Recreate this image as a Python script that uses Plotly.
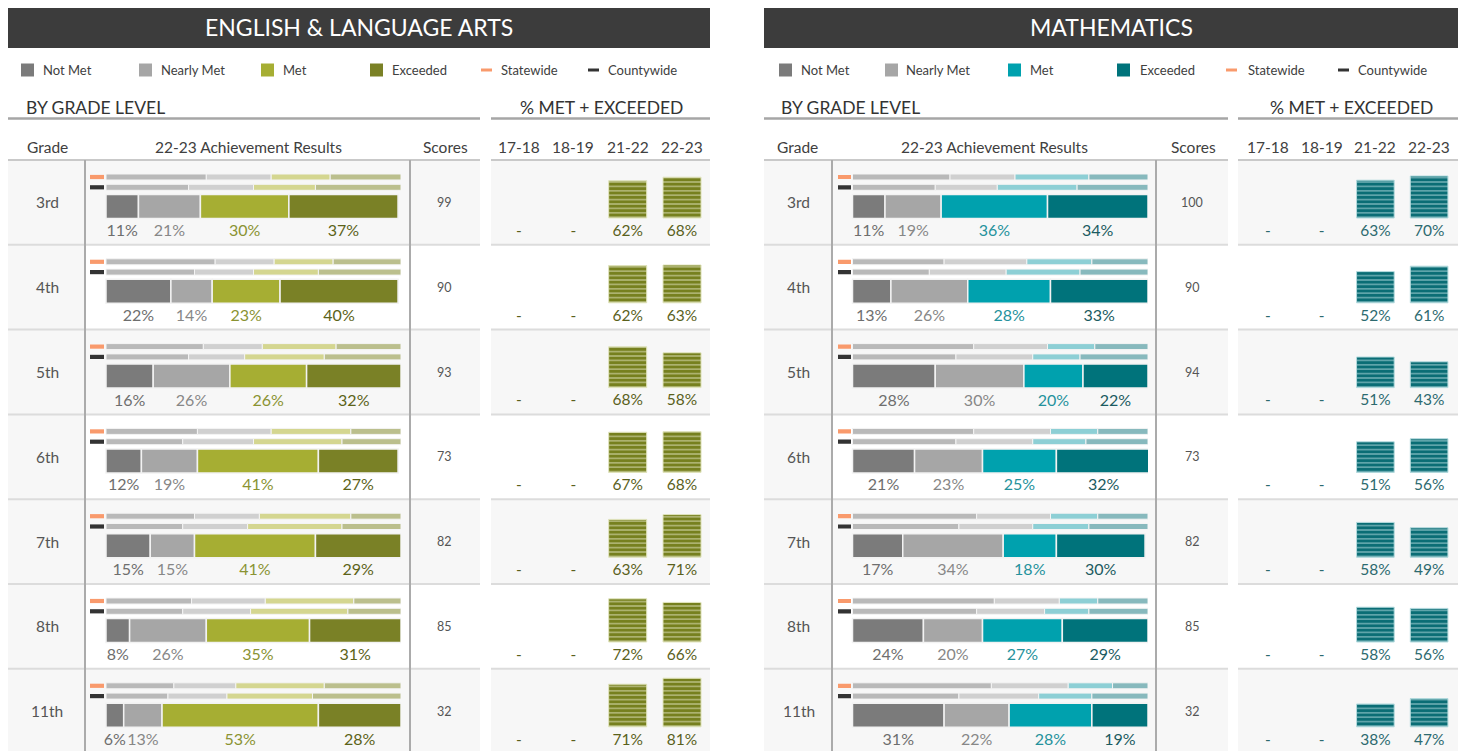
import plotly.graph_objects as go

W, H = 1466, 751

# ---------------- DATA ----------------
grades = ["3rd", "4th", "5th", "6th", "7th", "8th", "11th"]
periods = ["17-18", "18-19", "21-22", "22-23"]
categories = ["Not Met", "Nearly Met", "Met", "Exceeded"]

# English & Language Arts, 22-23 achievement (%)
ela_not_met = [11, 22, 16, 12, 15, 8, 6]
ela_nearly_met = [21, 14, 26, 19, 15, 26, 13]
ela_met = [30, 23, 26, 41, 41, 35, 53]
ela_exceeded = [37, 40, 32, 27, 29, 31, 28]
# statewide distribution (estimated)
ela_state_not_met = [34, 37, 33, 31, 30, 29, 23]
ela_state_nearly_met = [22, 20, 20, 25, 22, 25, 21]
ela_state_met = [20, 20, 25, 27, 31, 30, 30]
ela_state_exceeded = [24, 23, 22, 17, 17, 16, 26]
# countywide distribution (estimated)
ela_county_not_met = [28, 30, 28, 26, 26, 26, 21]
ela_county_nearly_met = [22, 20, 19, 24, 22, 23, 20]
ela_county_met = [21, 22, 27, 30, 32, 33, 29]
ela_county_exceeded = [29, 28, 26, 20, 20, 18, 30]
ela_scores = [99, 90, 93, 73, 82, 85, 32]
ela_me_1718 = [None, None, None, None, None, None, None]
ela_me_1819 = [None, None, None, None, None, None, None]
ela_me_2122 = [62, 62, 68, 67, 63, 72, 71]
ela_me_2223 = [68, 63, 58, 68, 71, 66, 81]

# Mathematics, 22-23 achievement (%)
math_not_met = [11, 13, 28, 21, 17, 24, 31]
math_nearly_met = [19, 26, 30, 23, 34, 20, 22]
math_met = [36, 28, 20, 25, 18, 27, 28]
math_exceeded = [34, 33, 22, 32, 30, 29, 19]
math_state_not_met = [33, 31, 41, 41, 42, 48, 47]
math_state_nearly_met = [22, 28, 25, 26, 25, 22, 26]
math_state_met = [25, 22, 16, 16, 16, 13, 15]
math_state_exceeded = [20, 19, 18, 17, 17, 17, 12]
math_county_not_met = [28, 26, 35, 35, 36, 42, 36]
math_county_nearly_met = [21, 26, 26, 26, 25, 23, 27]
math_county_met = [27, 25, 16, 18, 19, 15, 18]
math_county_exceeded = [24, 23, 23, 21, 20, 20, 19]
math_scores = [100, 90, 94, 73, 82, 85, 32]
math_me_1718 = [None, None, None, None, None, None, None]
math_me_1819 = [None, None, None, None, None, None, None]
math_me_2122 = [63, 52, 51, 51, 58, 58, 38]
math_me_2223 = [70, 61, 43, 56, 49, 56, 47]

# ---------------- GEOMETRY / STYLE ----------------
FONT = "Lato, 'Open Sans', sans-serif"
PAGE_OFF = 8.0          # page body margin: figure starts 8px in from the window corner
ROW_TOP = 160.0         # screen y of first row
ROW_H = 84.8
N = len(grades)
FIG_BOTTOM = H + PAGE_OFF


def px(x):
    return (x - PAGE_OFF) / W


def py(y):
    return 1 - (y - PAGE_OFF) / H


# offsets inside a row (in row units)
OFF_STATE = 17.0 / ROW_H
OFF_COUNTY = 27.3 / ROW_H
OFF_MAIN = 46.5 / ROW_H
OFF_LABEL = 72.0 / ROW_H
OFF_MID = 0.5
BAR_THIN = 6.0 / ROW_H
BAR_MAIN = 24.0 / ROW_H
BASE_PX = 58.0      # baseline of stripe bars from row top
PX_PER_PCT = 0.6    # stripe bar scale

GRAY_NOT = "#7b7b7b"
GRAY_NEAR = "#a6a6a6"
LGRAY_NOT = "#b9b9b9"
LGRAY_NEAR = "#d0d0d0"

panels = [
    dict(
        title="ENGLISH & LANGUAGE ARTS",
        vals=[ela_not_met, ela_nearly_met, ela_met, ela_exceeded],
        state=[ela_state_not_met, ela_state_nearly_met, ela_state_met, ela_state_exceeded],
        county=[ela_county_not_met, ela_county_nearly_met, ela_county_met, ela_county_exceeded],
        scores=ela_scores,
        me=[ela_me_1718, ela_me_1819, ela_me_2122, ela_me_2223],
        colors=[GRAY_NOT, GRAY_NEAR, "#a6ae33", "#7a8126"],
        lcolors=[LGRAY_NOT, LGRAY_NEAR, "#d4d690", "#bbbf8d"],
        tcolors=["#6e6e6e", "#878787", "#8a9332", "#5c6319"],
        stripe_dark="#76801e", stripe_light="#e2e5bf", me_text="#5a611c",
        title_x=(8, 710),
        leg_sq=[21, 139, 261, 370], leg_tx=[41, 159, 281, 390],
        leg_ln=[481, 588], leg_ln_tx=[499, 606],
        bgl_x=24, left_block=(8, 480), right_block=(491, 710), met_title_x=601,
        hdr_grade=47, hdr_ach=248, hdr_scores=445,
        grade_col=(8, 84), box=(85, 410),
        ach_zero=106, ach_full=401, ach_left=88, marker=(90, 104),
        met_dom=(491.8, 709.2),
    ),
    dict(
        title="MATHEMATICS",
        vals=[math_not_met, math_nearly_met, math_met, math_exceeded],
        state=[math_state_not_met, math_state_nearly_met, math_state_met, math_state_exceeded],
        county=[math_county_not_met, math_county_nearly_met, math_county_met, math_county_exceeded],
        scores=math_scores,
        me=[math_me_1718, math_me_1819, math_me_2122, math_me_2223],
        colors=[GRAY_NOT, GRAY_NEAR, "#00a1ae", "#00737b"],
        lcolors=[LGRAY_NOT, LGRAY_NEAR, "#8dcfd5", "#87b9bd"],
        tcolors=["#6e6e6e", "#878787", "#25929c", "#1b5b61"],
        stripe_dark="#0a6d75", stripe_light="#b4dbde", me_text="#2d6a6f",
        title_x=(764, 1458),
        leg_sq=[779, 885, 1008, 1117], leg_tx=[799, 904, 1028, 1138],
        leg_ln=[1226, 1338], leg_ln_tx=[1246, 1356],
        bgl_x=779, left_block=(764, 1228), right_block=(1238, 1458), met_title_x=1351,
        hdr_grade=797, hdr_ach=994, hdr_scores=1193,
        grade_col=(764, 831), box=(832, 1156),
        ach_zero=852.5, ach_full=1148, ach_left=834.5, marker=(838, 851),
        met_dom=(1241, 1456),
    ),
]

fig = go.Figure()
shapes = []
annotations = []
layout = dict(
    width=W, height=H,
    margin=dict(l=0, r=0, t=0, b=0),
    paper_bgcolor="white", plot_bgcolor="rgba(0,0,0,0)",
    showlegend=False, barmode="overlay",
    font=dict(family=FONT, color="#404040"),
)

# shared row axis (rows 0..N, top to bottom)
layout["yaxis"] = dict(domain=[0, py(ROW_TOP)], range=[(FIG_BOTTOM - ROW_TOP) / ROW_H, 0],
                       visible=False, fixedrange=True, anchor="x")
# per-row axes for the % met + exceeded stripe bars
for i in range(N):
    top = ROW_TOP + i * ROW_H
    bot = min(top + ROW_H, FIG_BOTTOM)
    layout[f"yaxis{i + 2}"] = dict(
        domain=[max(py(bot), 0), py(top)],
        range=[(BASE_PX - (bot - top)) / PX_PER_PCT, BASE_PX / PX_PER_PCT],
        visible=False, fixedrange=True, anchor="x2")


def hline(x0, x1, y, color, width):
    shapes.append(dict(type="line", xref="paper", yref="paper", x0=px(x0), x1=px(x1),
                       y0=py(y), y1=py(y), line=dict(color=color, width=width), layer="below"))


def rect(x0, x1, y0, y1, color, layer="below"):
    shapes.append(dict(type="rect", xref="paper", yref="paper", x0=px(x0), x1=px(x1),
                       y0=py(y1), y1=py(y0), fillcolor=color, line=dict(width=0), layer=layer))


def text(x, y, s, size, color, xanchor="center", xref="paper", yref="paper"):
    annotations.append(dict(x=x, y=y, xref=xref, yref=yref, text=s, showarrow=False,
                            xanchor=xanchor, yanchor="middle",
                            font=dict(size=size, color=color, family=FONT)))


for p, P in enumerate(panels):
    xa = "x" if p == 0 else "x3"
    xm = "x2" if p == 0 else "x4"
    xa_key = "xaxis" if p == 0 else "xaxis3"
    xm_key = "xaxis2" if p == 0 else "xaxis4"
    scale = (P["ach_full"] - P["ach_zero"]) / 100.0
    layout[xa_key] = dict(domain=[px(P["ach_left"]), px(P["ach_full"])],
                          range=[-(P["ach_zero"] - P["ach_left"]) / scale, 100],
                          visible=False, fixedrange=True, anchor="y")
    layout[xm_key] = dict(domain=[px(P["met_dom"][0]), px(P["met_dom"][1])],
                          type="category", categoryorder="array", categoryarray=periods,
                          range=[-0.5, len(periods) - 0.5],
                          visible=False, fixedrange=True, anchor="y2")

    # ---- header decorations ----
    tx0, tx1 = P["title_x"]
    rect(tx0, tx1, 6, 48, "#3c3c3c")
    text(px((tx0 + tx1) / 2), py(27), P["title"], 23, "white")
    for k, cat in enumerate(categories):
        sx = P["leg_sq"][k]
        rect(sx, sx + 13, 63.5, 76.5, P["colors"][k])
        text(px(P["leg_tx"][k]), py(70), cat, 13, "#404040", xanchor="left")
    for k, (lab, col) in enumerate([("Statewide", "#f99a6c"), ("Countywide", "#333333")]):
        lx = P["leg_ln"][k]
        rect(lx, lx + 11, 68.5, 71.5, col)
        text(px(P["leg_ln_tx"][k]), py(70), lab, 13, "#404040", xanchor="left")

    lb0, lb1 = P["left_block"]
    rb0, rb1 = P["right_block"]
    text(px(P["bgl_x"]), py(107), "BY GRADE LEVEL", 17.5, "#333333", xanchor="left")
    text(px(P["met_title_x"]), py(107), "% MET + EXCEEDED", 17.5, "#333333")
    hline(lb0, lb1, 118.5, "#a6a6a6", 2.5)
    hline(rb0, rb1, 118.5, "#a6a6a6", 2.5)
    text(px(P["hdr_grade"]), py(147), "Grade", 15.5, "#404040")
    text(px(P["hdr_ach"]), py(147), "22-23 Achievement Results", 15.5, "#404040")
    text(px(P["hdr_scores"]), py(147), "Scores", 15.5, "#404040")
    for per in periods:
        annotations.append(dict(x=per, xref=xm, y=py(147), yref="paper", text=per,
                                showarrow=False, xanchor="center", yanchor="middle",
                                font=dict(size=15.5, color="#404040", family=FONT)))

    # ---- row backgrounds / separators ----
    g0, g1 = P["grade_col"]
    for i in range(N):
        top = ROW_TOP + i * ROW_H
        bot = min(top + ROW_H, FIG_BOTTOM)
        if i % 2 == 0:
            rect(lb0, lb1, top, bot, "#f7f7f7")
            rect(rb0, rb1, top, bot, "#f7f7f7")
        else:
            rect(g0, g1, top, bot, "#f7f7f7")
        if i > 0:
            hline(lb0, lb1, top, "#dcdcdc", 2)
            hline(rb0, rb1, top, "#dcdcdc", 2)
    hline(lb0, lb1, ROW_TOP, "#c9c9c9", 2)
    hline(rb0, rb1, ROW_TOP, "#c9c9c9", 2)
    for bx in P["box"]:
        shapes.append(dict(type="line", xref="paper", yref="paper", x0=px(bx), x1=px(bx),
                           y0=py(ROW_TOP), y1=0, line=dict(color="#ababab", width=2),
                           layer="above"))

    rows = list(range(N))

    # ---- statewide / countywide thin bars ----
    for off, dist in [(OFF_STATE, P["state"]), (OFF_COUNTY, P["county"])]:
        base = [0] * N
        for k in range(4):
            fig.add_trace(go.Bar(
                orientation="h", y=[r + off for r in rows], x=dist[k], base=list(base),
                width=BAR_THIN, xaxis=xa, yaxis="y",
                marker=dict(color=P["lcolors"][k], line=dict(color="#f4f4f4", width=1)),
                hoverinfo="skip"))
            base = [b + v for b, v in zip(base, dist[k])]
    # legend markers in front of the statewide / countywide bars
    m0 = -(P["ach_zero"] - P["marker"][0]) / scale
    mlen = (P["marker"][1] - P["marker"][0]) / scale
    for off, col in [(OFF_STATE, "#f99a6c"), (OFF_COUNTY, "#333333")]:
        fig.add_trace(go.Bar(orientation="h", y=[r + off for r in rows], x=[mlen] * N,
                             base=[m0] * N, width=BAR_THIN * 0.7, xaxis=xa, yaxis="y",
                             marker=dict(color=col, line=dict(width=0)), hoverinfo="skip"))

    # ---- main stacked bar + labels ----
    base = [0] * N
    lx, ly, lt, lc = [], [], [], []
    for k in range(4):
        vals = P["vals"][k]
        fig.add_trace(go.Bar(
            orientation="h", y=[r + OFF_MAIN for r in rows], x=vals, base=list(base),
            width=BAR_MAIN, xaxis=xa, yaxis="y", name=categories[k],
            marker=dict(color=P["colors"][k], line=dict(color="#f2f2f2", width=1.5)),
            hoverinfo="skip"))
        for r in rows:
            lx.append(base[r] + vals[r] / 2)
            ly.append(r + OFF_LABEL)
            lt.append(f"{vals[r]}%")
            lc.append(P["tcolors"][k])
        base = [b + v for b, v in zip(base, vals)]
    fig.add_trace(go.Scatter(x=lx, y=ly, text=lt, mode="text", xaxis=xa, yaxis="y",
                             textfont=dict(size=16, color=lc, family=FONT),
                             cliponaxis=False, hoverinfo="skip"))

    # ---- grade & scores columns ----
    for r in rows:
        text(px((g0 + g1) / 2 + 1), r + OFF_MID, grades[r], 15.5, "#555555", yref="y")
        text(px(P["hdr_scores"] - 1), r + OFF_MID, str(P["scores"][r]), 12.5, "#555555", yref="y")

    # ---- % met + exceeded stripe bars ----
    label_y = (BASE_PX - 72.0) / PX_PER_PCT
    for r in rows:
        yv = [P["me"][c][r] for c in range(len(periods))]
        fig.add_trace(go.Bar(
            x=periods, y=yv, width=0.7, xaxis=xm, yaxis=f"y{r + 2}",
            marker=dict(color=P["stripe_dark"],
                        line=dict(color=P["stripe_light"], width=1),
                        pattern=dict(shape="-", fgcolor=P["stripe_dark"],
                                     bgcolor=P["stripe_light"], size=4.4,
                                     solidity=0.8, fillmode="replace")),
            hoverinfo="skip"))
        fig.add_trace(go.Scatter(
            x=periods, y=[label_y] * len(periods),
            text=[f"{v}%" if v is not None else "-" for v in yv],
            mode="text", xaxis=xm, yaxis=f"y{r + 2}", cliponaxis=False,
            textfont=dict(size=15.5, color=P["me_text"], family=FONT), hoverinfo="skip"))

layout["shapes"] = shapes
layout["annotations"] = annotations
fig.update_layout(**layout)
fig.write_html("out.html")
